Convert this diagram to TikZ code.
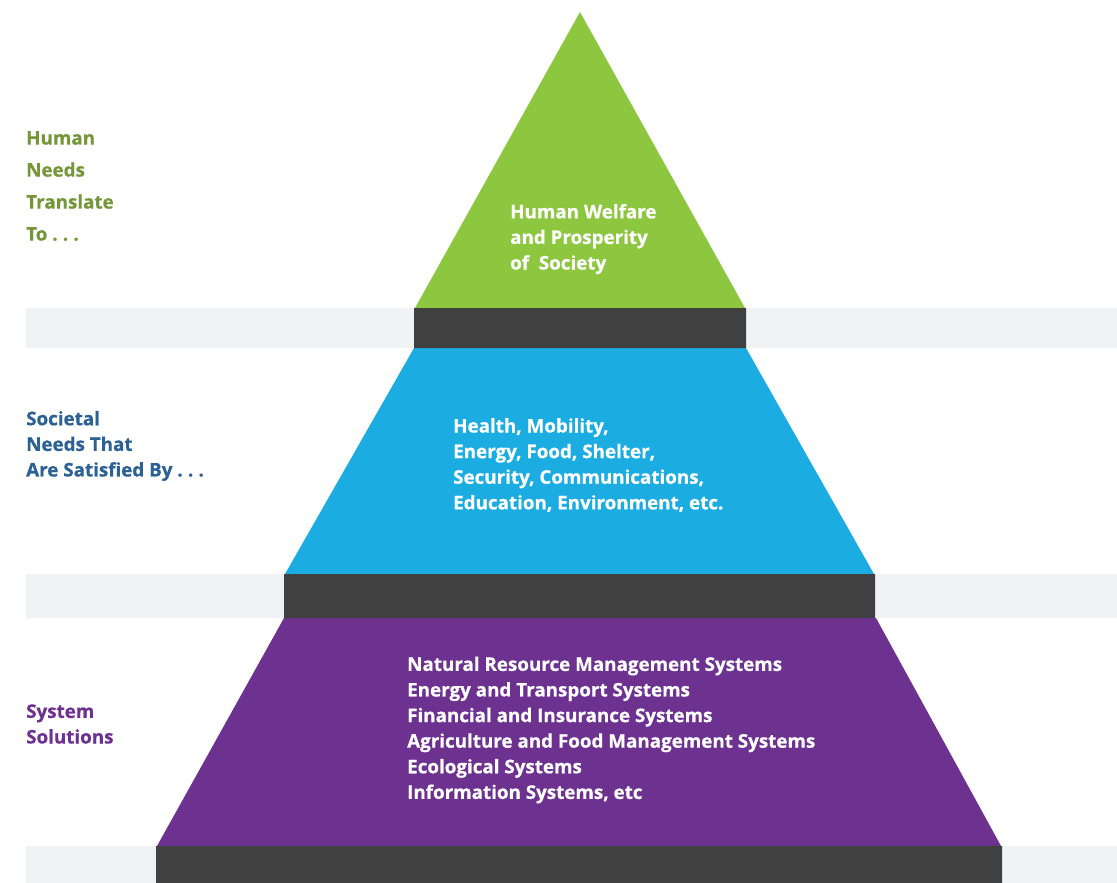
\documentclass[tikz,border=0pt]{standalone}
\usepackage{fontspec}
\setmainfont{Open Sans}[BoldFeatures={FakeBold=0.6}]
\definecolor{topgreen}{HTML}{8DC63F}
\definecolor{midblue}{HTML}{1BACE2}
\definecolor{basepurple}{HTML}{6D3190}
\definecolor{darkbar}{HTML}{404040}
\definecolor{bandgray}{HTML}{F1F2F4}
\definecolor{greenlbl}{HTML}{76963A}
\definecolor{bluelbl}{HTML}{2B6195}
\definecolor{purplelbl}{HTML}{6E3192}
\begin{document}
\begin{tikzpicture}[x=1pt,y=-1pt,
	txt/.style={inner sep=0,anchor=west,align=left,font=\bfseries\fontsize{18.8}{25.6}\selectfont}]
	\useasboundingbox (0,0) rectangle (1117,883);
	\fill[bandgray] (26,308) rectangle (1117,348) (26,574) rectangle (1117,618) (26,846) rectangle (1117,883); % grey bands
	\fill[topgreen] (580,12) -- (745,308) -- (415,308) -- cycle;
	\fill[midblue] (414,348) -- (746,348) -- (874,574) -- (285,574) -- cycle;
	\fill[basepurple] (284,618) -- (876,618) -- (1001,846) -- (157,846) -- cycle;
	\fill[darkbar] (414,308) rectangle (746,348) (284,574) rectangle (875,618) (156,846) rectangle (1002,883); % dark bars
	\node[txt,white] (welfare) at (510,239) {Human Welfare\\and Prosperity\\of\ \ Society};
	\node[txt,white] (needs) at (453,465) {Health, Mobility,\\Energy, Food, Shelter,\\Security, Communications,\\Education, Environment, etc.};
	\node[txt,white] (solutions) at (407,730) {Natural Resource Management Systems\\Energy and Transport Systems\\Financial and Insurance Systems\\Agriculture and Food Management Systems\\Ecological Systems\\Information Systems, etc};
	\node[txt,greenlbl,font=\bfseries\fontsize{18.8}{32}\selectfont] (humanlbl) at (26,186) {Human\\Needs\\Translate\\To~.\;.\;.};
	\node[txt,bluelbl] (societallbl) at (26,446) {Societal\\Needs That\\Are Satisfied By~.\;.\;.};
	\node[txt,purplelbl] (systemlbl) at (26,724) {System\\Solutions};
\end{tikzpicture}
\end{document}
